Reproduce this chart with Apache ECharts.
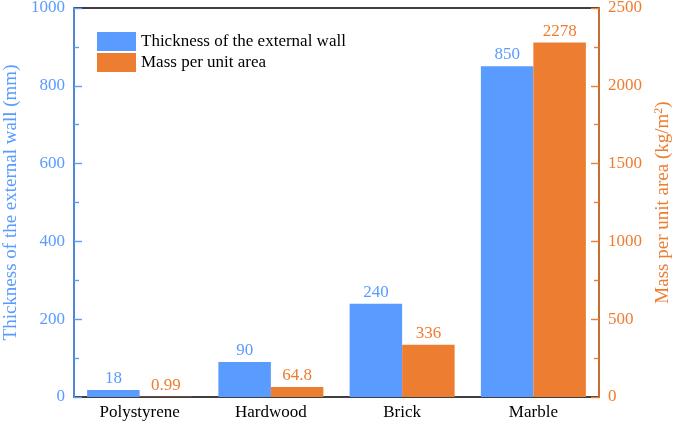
<!DOCTYPE html>
<html>
<head>
<meta charset="utf-8">
<script src="https://cdn.jsdelivr.net/npm/echarts@6/dist/echarts.min.js"></script>
<style>html,body{margin:0;padding:0;background:#fff}#c{width:675px;height:425px}</style>
</head>
<body>
<div id="c"></div>
<script>
const categories = ['Polystyrene', 'Hardwood', 'Brick', 'Marble'];
const thickness = [18, 90, 240, 850];
const mass = [0.99, 64.8, 336, 2278];
const seriesNames = ['Thickness of the external wall', 'Mass per unit area'];
const leftAxisName = 'Thickness of the external wall (mm)';
const rightAxisName = 'Mass per unit area (kg/m{sup|2})';

const BLUE = '#5A9BFF';
const ORANGE = '#ED7D31';
const FONT = '"Liberation Serif", "Times New Roman", serif';

const chart = echarts.init(document.getElementById('c'));
chart.setOption({
  animation: false,
  backgroundColor: '#fff',
  textStyle: { fontFamily: FONT },
  grid: { left: 74, right: 76, top: 8, bottom: 28, containLabel: false, outerBoundsMode: 'none',
    show: true, borderColor: '#000', borderWidth: 1.6, backgroundColor: 'transparent' },
  legend: {
    orient: 'vertical', left: 97, top: 32, padding: 0, itemGap: 2,
    itemWidth: 39, itemHeight: 19, icon: 'rect',
    textStyle: { fontFamily: FONT, fontSize: 17, color: '#000' },
    data: seriesNames
  },
  xAxis: {
    type: 'category', data: categories,
    axisLine: { show: false },
    axisTick: { show: false },
    axisLabel: { fontFamily: FONT, fontSize: 17, color: '#000', margin: 7 }
  },
  yAxis: [{
    type: 'value', min: 0, max: 1000, interval: 200, position: 'left',
    name: leftAxisName, nameLocation: 'middle', nameRotate: 90, nameGap: 52,
    nameTextStyle: { fontFamily: FONT, fontSize: 19, color: BLUE },
    axisLine: { show: true, lineStyle: { color: BLUE, width: 1.6 } },
    axisTick: { show: true, inside: true, length: 8, lineStyle: { color: BLUE, width: 1.4 } },
    minorTick: { show: true, splitNumber: 2, length: 5, lineStyle: { color: BLUE, width: 1.4 } },
    axisLabel: { fontFamily: FONT, fontSize: 17, color: BLUE, margin: 9, formatter: v => String(v) },
    splitLine: { show: false }
  }, {
    type: 'value', min: 0, max: 2500, interval: 500, position: 'right',
    name: rightAxisName, nameLocation: 'middle', nameRotate: 90, nameGap: 52,
    nameTextStyle: { fontFamily: FONT, fontSize: 19, color: ORANGE,
      rich: { sup: { fontFamily: FONT, fontSize: 12, color: ORANGE, verticalAlign: 'top', padding: [0, 0, 8, 0] } } },
    axisLine: { show: true, lineStyle: { color: ORANGE, width: 1.6 } },
    axisTick: { show: true, inside: true, length: 8, lineStyle: { color: ORANGE, width: 1.4 } },
    minorTick: { show: true, splitNumber: 2, length: 5, lineStyle: { color: ORANGE, width: 1.4 } },
    axisLabel: { fontFamily: FONT, fontSize: 17, color: ORANGE, margin: 9, formatter: v => String(v) },
    splitLine: { show: false }
  }],
  series: [{
    name: seriesNames[0], type: 'bar', yAxisIndex: 0, data: thickness,
    barGap: '0%', barCategoryGap: '20%',
    itemStyle: { color: BLUE },
    label: { show: true, position: 'top', distance: 3, fontFamily: FONT, fontSize: 17, color: BLUE }
  }, {
    name: seriesNames[1], type: 'bar', yAxisIndex: 1, data: mass,
    barGap: '0%', barCategoryGap: '20%',
    itemStyle: { color: ORANGE },
    label: { show: true, position: 'top', distance: 3, fontFamily: FONT, fontSize: 17, color: ORANGE }
  }]
});
</script>
</body>
</html>
